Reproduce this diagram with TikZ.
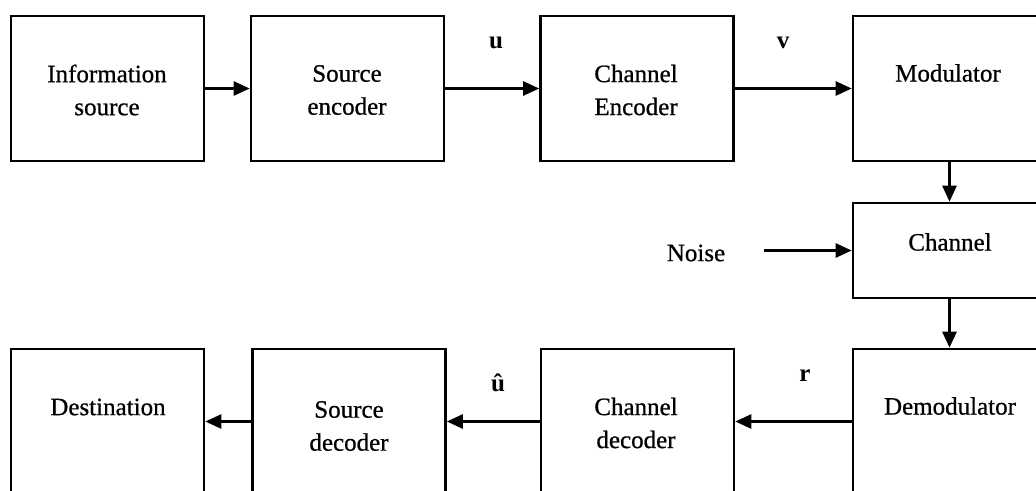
\documentclass[tikz,border=0pt]{standalone}
\usepackage{fontspec}
\setmainfont{Liberation Serif}
\newfontfamily\heavyserif[FakeBold=0.7]{Liberation Serif}
\usetikzlibrary{arrows.meta}
\begin{document}
\begin{tikzpicture}[x=1pt,y=-1pt,
  box/.style={draw, line width=2.6pt, minimum width=193pt, minimum height=145pt, inner sep=0pt},
  lbl/.style={font=\heavyserif\fontsize{25}{33}\selectfont, align=center, inner sep=0pt},
  sig/.style={font=\fontsize{25}{30}\selectfont\bfseries, inner sep=0pt},
  conn/.style={line width=2.6pt, -{Triangle[length=16pt,width=14pt]}}]
\useasboundingbox (0,0) rectangle (1036,490);
\clip (0,0) rectangle (1036,490);
\fill[white] (0,0) rectangle (1036,490);
% boxes
\node[box] (is)  at (107.5,88.5) {};
\node[box] (se)  at (347.5,88.5) {};
\node[box] (ce)  at (637,88.5) {};
\node[box] (mod) at (949.5,88.5) {};
\node[box, minimum height=95pt] (ch) at (949.5,250.5) {};
\node[box] (dem) at (949.5,421.5) {};
\node[box] (cd)  at (637.5,421.5) {};
\node[box] (sd)  at (349,421.5) {};
\node[box] (dst) at (107.5,421.5) {};
% box texts
\node[lbl] (is-t)  at (107,90) {Information\\source};
\node[lbl] (se-t)  at (347,90) {Source\\encoder};
\node[lbl] (ce-t)  at (636,90) {Channel\\Encoder};
\node[lbl] (mod-t) at (948,73) {Modulator};
\node[lbl] (ch-t)  at (950,242) {Channel};
\node[lbl] (dem-t) at (950,406) {Demodulator};
\node[lbl] (cd-t)  at (636,423) {Channel\\decoder};
\node[lbl] (sd-t)  at (349,426) {Source\\decoder};
\node[lbl] (dst-t) at (108,407) {Destination};
\node[lbl] (noise) at (696,253) {Noise};
% signal labels
\node[sig] (u)  at (496,43) {u};
\node[sig] (v)  at (783,43) {v};
\node[sig] (uh) at (498,383) {û};
\node[sig] (r)  at (805,376) {r};
% connectors
\coordinate (nz) at (764,250.5);
\draw[conn] (is) -- (se);
\draw[conn] (se) -- (ce);
\draw[conn] (ce) -- (mod);
\draw[conn] (mod) -- (ch);
\draw[conn] (nz) -- (ch);
\draw[conn] (ch) -- (dem);
\draw[conn] (dem) -- (cd);
\draw[conn] (cd) -- (sd);
\draw[conn] (sd) -- (dst);
\end{tikzpicture}
\end{document}
